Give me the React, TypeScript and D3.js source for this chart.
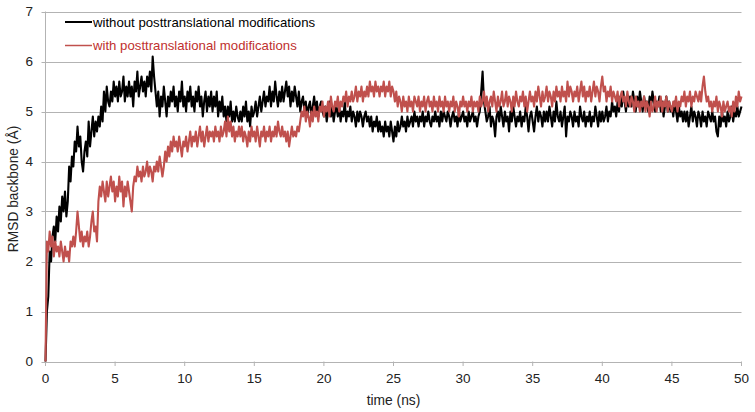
import React from "react";
import * as d3 from "d3";

const timeStep = 0.1;
const xTicks = [0, 5, 10, 15, 20, 25, 30, 35, 40, 45, 50];
const yTicks = [0, 1, 2, 3, 4, 5, 6, 7];
const seriesNames = ["without posttranslational modifications", "with posttranslational modifications"];

const withoutPTM = [
  0.0, 1.0, 1.3, 2.2, 2.0, 2.5, 2.7, 2.4, 2.9, 2.6,
  3.1, 2.8, 3.3, 3.0, 3.4, 2.9, 3.2, 3.9, 3.6, 4.1,
  3.9, 4.4, 4.2, 4.7, 4.3, 4.5, 4.0, 3.8, 4.2, 4.4,
  4.1, 4.8, 4.3, 4.6, 4.9, 4.5, 4.8, 4.6, 4.9, 4.7,
  5.1, 4.8, 5.4, 5.0, 5.5, 5.2, 5.1, 5.4, 5.2, 5.6,
  5.3, 5.5, 5.2, 5.6, 5.3, 5.4, 5.7, 5.2, 5.5, 5.3,
  5.6, 5.3, 5.5, 5.1, 5.6, 5.4, 5.8, 5.3, 5.5, 5.7,
  5.4, 5.6, 5.3, 5.7, 5.5, 5.8, 5.4, 6.1, 5.7, 5.4,
  5.1, 5.4, 4.9, 5.3, 5.1, 5.5, 5.2, 4.9, 5.3, 5.1,
  5.4, 5.2, 5.5, 5.1, 5.3, 5.0, 5.4, 5.2, 5.6, 5.1,
  5.3, 5.0, 5.4, 5.2, 5.5, 5.1, 5.3, 5.0, 5.4, 5.2,
  5.5, 5.1, 5.3, 4.9, 5.2, 5.4, 5.0, 5.3, 5.1, 5.4,
  5.0, 5.3, 5.1, 5.4, 4.9, 5.2, 5.0, 5.3, 4.9, 5.1,
  4.8, 5.1, 4.9, 5.2, 4.8, 5.0, 4.8, 5.1, 4.9, 4.8,
  5.0, 4.8, 5.1, 4.9, 5.2, 4.8, 5.0, 4.7, 5.1, 4.9,
  5.0, 5.2, 4.9, 5.1, 5.3, 5.0, 5.2, 5.4, 5.1, 5.3,
  5.2, 5.5, 5.1, 5.4, 5.2, 5.6, 5.3, 5.1, 5.4, 5.2,
  5.5, 5.2, 5.4, 5.6, 5.3, 5.5, 5.1, 5.4, 5.2, 5.5,
  5.3, 5.1, 5.4, 5.0, 5.2, 5.3, 5.0, 5.2, 4.9, 5.1,
  5.2, 4.9, 5.1, 5.3, 5.0, 5.2, 4.9, 5.1, 5.2, 5.0,
  4.9, 5.1, 4.8, 5.0, 5.2, 4.9, 5.1, 4.8, 5.0, 5.1,
  4.9, 5.1, 4.8, 5.0, 4.9, 5.2, 4.8, 5.0, 4.9, 5.1,
  4.8, 5.0, 4.9, 4.7, 5.0, 4.8, 5.0, 4.9, 4.7, 4.9,
  5.0, 4.8, 4.9, 4.7, 4.9, 4.6, 4.8, 4.7, 4.9, 4.6,
  4.8, 4.6, 4.7, 4.5, 4.8, 4.6, 4.7, 4.5, 4.8, 4.6,
  4.4, 4.7, 4.5, 4.8, 4.6, 4.7, 4.9, 4.7, 4.8, 4.6,
  4.9, 4.7, 4.8, 4.9, 4.7, 5.0, 4.8, 4.9, 4.7, 4.9,
  4.8, 5.0, 4.7, 4.9, 4.8, 5.0, 4.8, 4.7, 4.9, 4.8,
  5.0, 4.8, 4.9, 4.7, 5.0, 4.8, 5.0, 4.9, 4.8, 5.0,
  4.9, 4.7, 4.9, 5.0, 4.8, 4.9, 4.7, 5.0, 4.8, 4.9,
  5.0, 4.8, 4.9, 4.7, 5.0, 4.8, 4.9, 5.0, 4.8, 4.9,
  4.7, 4.9, 5.0, 5.4, 5.8, 5.2, 5.0, 4.8, 4.9, 5.1,
  4.7, 4.9, 4.8, 4.5, 4.9, 5.0, 4.8, 5.1, 4.9, 4.7,
  5.0, 4.8, 4.9, 4.6, 5.0, 4.8, 5.1, 4.9, 4.7, 4.9,
  4.8, 5.0, 4.7, 4.9, 4.8, 5.1, 4.9, 4.6, 4.9, 5.0,
  4.8, 4.6, 4.9, 5.1, 4.8, 5.0, 4.9, 4.7, 5.0, 4.8,
  5.0, 4.8, 5.1, 4.9, 4.7, 5.0, 4.8, 5.2, 4.9, 4.8,
  5.0, 4.7, 4.9, 5.1, 4.5, 4.9, 4.8, 5.0, 4.9, 4.7,
  5.0, 4.8, 4.9, 4.7, 5.1, 4.9, 4.8, 5.0, 4.7, 4.9,
  4.8, 5.0, 4.7, 4.9, 4.8, 5.1, 4.9, 4.7, 5.0, 4.8,
  5.0, 4.8, 4.9, 5.1, 4.8, 5.0, 4.9, 5.2, 5.0, 5.1,
  4.9, 5.2, 5.0, 5.3, 5.1, 5.4, 5.2, 5.0, 5.3, 5.1,
  5.3, 5.1, 5.4, 5.2, 5.0, 5.3, 5.1, 5.4, 5.2, 5.0,
  5.3, 5.1, 5.2, 5.0, 5.3, 5.1, 5.4, 5.2, 5.0, 5.2,
  5.1, 5.3, 5.0, 5.2, 4.9, 5.1, 5.3, 5.0, 5.2, 5.0,
  5.1, 4.9, 5.2, 5.0, 4.8, 5.1, 4.9, 5.0, 4.8, 5.0,
  4.8, 5.0, 4.7, 4.9, 5.1, 4.8, 5.0, 4.9, 4.7, 5.0,
  4.9, 4.7, 5.0, 4.8, 4.9, 4.7, 5.0, 4.9, 4.8, 5.0,
  4.8, 4.9, 4.6, 4.5, 4.9, 4.7, 5.0, 4.8, 4.9, 4.7,
  5.0, 4.8, 4.9, 5.1, 4.8, 5.0, 4.9, 5.1, 4.9, 5.0,
  5.1,
];

const withPTM = [
  0.0, 2.4, 2.2, 2.6, 2.3, 2.5, 2.1, 2.4, 2.2, 2.3,
  2.1, 2.4, 2.2, 2.0, 2.3, 2.1, 2.2, 2.0, 2.4, 2.3,
  2.5, 2.3, 2.6, 3.0, 2.7, 2.4, 2.6, 2.3, 2.5, 2.4,
  2.6, 2.3, 2.5, 2.8, 3.0, 2.6, 2.7, 2.4, 3.2, 3.5,
  3.3, 3.6, 3.4, 3.2, 3.6, 3.3, 3.5, 3.7, 3.4, 3.6,
  3.2, 3.5, 3.3, 3.7, 3.4, 3.6, 3.1, 3.5, 3.3, 3.6,
  3.4, 3.2, 3.0, 3.5, 3.7, 3.6, 3.9, 3.7, 3.8, 3.6,
  3.9, 3.7, 3.8, 4.0, 3.7, 3.9, 3.8, 3.6, 3.9, 3.8,
  4.0, 3.8, 4.1, 3.9, 3.7, 3.9, 4.2, 4.0, 4.3, 4.1,
  4.4, 4.2, 4.5, 4.3, 4.4, 4.2, 4.5, 4.3, 4.1, 4.4,
  4.3, 4.5, 4.2, 4.4, 4.6, 4.3, 4.5, 4.4, 4.6, 4.3,
  4.5, 4.7, 4.4, 4.6, 4.3, 4.5, 4.7, 4.4, 4.6, 4.5,
  4.6, 4.4, 4.7, 4.5, 4.6, 4.4, 4.7, 4.5, 4.6, 4.8,
  4.5, 4.9, 4.6, 4.8, 4.5, 4.7, 4.4, 4.6, 4.5, 4.7,
  4.5, 4.7, 4.4, 4.6, 4.5, 4.3, 4.6, 4.4, 4.7, 4.5,
  4.6, 4.4, 4.7, 4.5, 4.3, 4.6, 4.5, 4.7, 4.4, 4.6,
  4.5, 4.7, 4.4, 4.6, 4.5, 4.7, 4.5, 4.8, 4.6, 4.5,
  4.7, 4.5, 4.6, 4.4, 4.6, 4.3, 4.5, 4.7, 4.5, 4.6,
  4.5, 4.7, 4.6, 4.8, 5.0, 4.9, 5.1, 4.8, 5.0, 4.9,
  4.7, 5.0, 4.8, 5.1, 4.9, 5.0, 4.8, 5.1, 5.0, 5.2,
  4.9, 5.1, 5.0, 5.2, 4.9, 5.3, 5.1, 5.0, 5.2, 5.1,
  5.3, 5.0, 5.2, 5.1, 5.3, 5.2, 5.4, 5.1, 5.3, 5.2,
  5.4, 5.2, 5.3, 5.5, 5.2, 5.4, 5.3, 5.5, 5.2, 5.4,
  5.3, 5.5, 5.3, 5.6, 5.4, 5.5, 5.3, 5.6, 5.4, 5.5,
  5.3, 5.5, 5.4, 5.6, 5.3, 5.5, 5.4, 5.6, 5.3, 5.5,
  5.4, 5.2, 5.4, 5.1, 5.3, 5.2, 5.0, 5.3, 5.1, 5.2,
  5.0, 5.3, 5.1, 5.2, 5.0, 5.3, 5.2, 5.1, 5.3, 5.0,
  5.2, 5.1, 5.3, 5.0, 5.2, 5.3, 5.1, 5.2, 5.0, 5.3,
  5.1, 5.2, 5.0, 5.3, 5.1, 5.2, 5.0, 5.3, 5.1, 5.2,
  5.0, 5.2, 5.1, 5.3, 5.0, 5.2, 5.1, 4.9, 5.2, 5.1,
  5.3, 5.1, 5.2, 5.0, 5.2, 5.1, 5.3, 5.0, 5.2, 5.1,
  5.2, 5.0, 5.3, 5.1, 5.2, 5.4, 5.1, 5.3, 5.0, 5.2,
  5.3, 5.1, 5.4, 5.2, 5.0, 5.3, 5.1, 5.2, 5.4, 5.1,
  5.2, 5.4, 5.1, 5.3, 5.2, 5.0, 5.3, 5.1, 5.4, 5.2,
  5.1, 5.3, 5.2, 5.4, 5.1, 5.3, 5.0, 5.2, 5.4, 5.2,
  5.3, 5.1, 5.4, 5.2, 5.5, 5.3, 5.1, 5.4, 5.2, 5.3,
  5.5, 5.2, 5.4, 5.3, 5.1, 5.4, 5.2, 5.5, 5.3, 5.4,
  5.2, 5.5, 5.3, 5.4, 5.2, 5.6, 5.3, 5.5, 5.4, 5.2,
  5.4, 5.3, 5.5, 5.2, 5.4, 5.6, 5.3, 5.5, 5.2, 5.4,
  5.3, 5.5, 5.2, 5.4, 5.6, 5.3, 5.5, 5.4, 5.2, 5.5,
  5.7, 5.4, 5.5, 5.2, 5.4, 5.3, 5.5, 5.2, 5.4, 5.3,
  5.2, 5.4, 5.1, 5.3, 5.4, 5.2, 5.3, 5.1, 5.4, 5.2,
  5.1, 5.3, 5.2, 5.0, 5.3, 5.1, 5.2, 5.0, 5.2, 5.1,
  5.3, 5.0, 5.2, 5.1, 4.9, 5.2, 5.0, 5.1, 5.3, 5.0,
  5.2, 5.1, 5.3, 5.0, 5.2, 5.1, 5.3, 5.0, 5.2, 5.1,
  5.0, 5.2, 5.1, 5.3, 5.0, 5.2, 5.1, 5.3, 5.2, 5.4,
  5.1, 5.3, 5.2, 5.4, 5.1, 5.3, 5.2, 5.4, 5.3, 5.2,
  5.4, 5.2, 5.5, 5.7, 5.4, 5.2, 5.3, 5.1, 5.2, 5.0,
  5.2, 5.1, 5.3, 5.0, 5.2, 5.1, 4.9, 5.2, 5.0, 5.1,
  5.2, 5.0, 5.1, 4.9, 5.2, 5.0, 5.3, 5.1, 5.4, 5.2,
  5.3,
];

const W = 755;
const H = 412;
const FONT = "'Liberation Sans', Arial, sans-serif";
const GRID = "#b3b3b3";
const BLACK = "#000000";
const RED = "#c0504d";

export default function App() {
  const x = d3.scaleLinear().domain([0, 50]).range([45.5, 741.5]);
  const y = d3.scaleLinear().domain([0, 7]).range([361.5, 11.5]);
  const line = d3
    .line<number>()
    .x((_, i) => x(i * timeStep))
    .y((d) => y(d));

  const series = [
    { name: seriesNames[0], data: withoutPTM, color: BLACK, text: "#000" },
    { name: seriesNames[1], data: withPTM, color: RED, text: "#c0302e" },
  ];

  return (
    <svg
      width={W}
      height={H}
      style={{ position: "absolute", left: 0, top: 0, background: "#fff" }}
      fontFamily={FONT}
    >
      <rect width={W} height={H} fill="#fff" />
      {yTicks.map((t) => (
        <g key={"y" + t}>
          <line x1={41.5} x2={741.5} y1={Math.round(y(t)) + 0.5} y2={Math.round(y(t)) + 0.5} stroke={GRID} strokeWidth={1} />
          <text x={33} y={y(t) + 4.5} textAnchor="end" fontSize={13.5} fill="#222">
            {t}
          </text>
        </g>
      ))}
      <line x1={45.5} x2={45.5} y1={11.5} y2={361.5} stroke={GRID} strokeWidth={1} />
      {xTicks.map((t) => (
        <g key={"x" + t}>
          <line x1={x(t)} x2={x(t)} y1={361.5} y2={366} stroke={GRID} strokeWidth={1} />
          <text x={x(t)} y={383} textAnchor="middle" fontSize={13.5} fill="#222">
            {t}
          </text>
        </g>
      ))}
      <path d={line(withoutPTM) || ""} fill="none" stroke={BLACK} strokeWidth={2.1} strokeLinejoin="round" />
      <path d={line(withPTM) || ""} fill="none" stroke={RED} strokeWidth={2.1} strokeLinejoin="round" />
      {series.map((s, i) => (
        <g key={s.name} transform={`translate(0, ${22 + i * 23.5})`}>
          <line x1={65} x2={92} y1={0} y2={0} stroke={s.color} strokeWidth={i === 0 ? 2 : 1.5} />
          <text x={93} y={4.5} fontSize={13.2} fill={s.text}>
            {s.name}
          </text>
        </g>
      ))}
      <text
        transform={`translate(18, ${189}) rotate(-90)`}
        textAnchor="middle"
        fontSize={13.8}
        fill="#222"
      >
        RMSD backbone (Å)
      </text>
      <text x={393.5} y={405} textAnchor="middle" fontSize={13.8} fill="#222">
        time (ns)
      </text>
    </svg>
  );
}
